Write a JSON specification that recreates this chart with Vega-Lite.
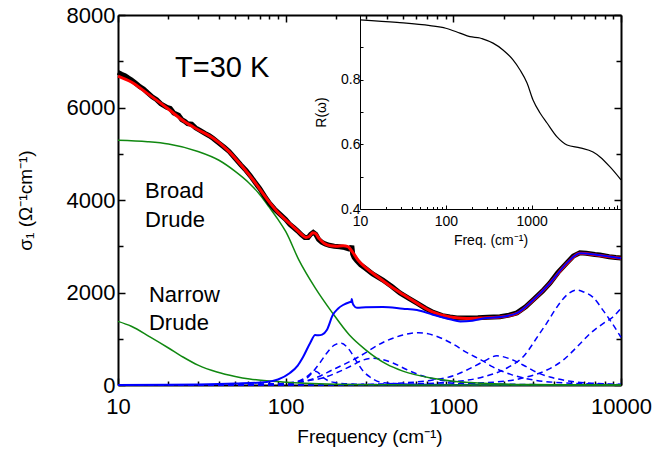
{
  "$schema": "https://vega.github.io/schema/vega-lite/v6.json",
  "width": 503,
  "height": 370,
  "autosize": {"type": "none"},
  "padding": {"left": 118, "top": 15, "right": 33, "bottom": 67},
  "background": "white",
  "config": {
    "font": "Liberation Sans",
    "view": {"stroke": null},
    "axis": {"grid": false, "domainColor": "black", "tickColor": "black", "labelColor": "black", "titleColor": "black", "labelFont": "Liberation Sans", "titleFont": "Liberation Sans", "titleFontWeight": "normal"}
  },
  "datasets": {
    "main": [
      {"k": "data", "f": 10, "s": 6760}, {"k": "data", "f": 10.5, "s": 6720}, {"k": "data", "f": 11, "s": 6690}, {"k": "data", "f": 11.5, "s": 6640}, {"k": "data", "f": 12, "s": 6600}, {"k": "data", "f": 12.7, "s": 6530}, {"k": "data", "f": 13.5, "s": 6450}, {"k": "data", "f": 14.2, "s": 6400}, {"k": "data", "f": 15, "s": 6320}, {"k": "data", "f": 16, "s": 6230}, {"k": "data", "f": 17, "s": 6170}, {"k": "data", "f": 18, "s": 6080}, {"k": "data", "f": 19.6, "s": 6000}, {"k": "data", "f": 20.5, "s": 5980}, {"k": "data", "f": 21.5, "s": 5880}, {"k": "data", "f": 23, "s": 5830}, {"k": "data", "f": 24, "s": 5740}, {"k": "data", "f": 25, "s": 5700}, {"k": "data", "f": 26, "s": 5650}, {"k": "data", "f": 27.5, "s": 5640}, {"k": "data", "f": 29, "s": 5560}, {"k": "data", "f": 31, "s": 5500}, {"k": "data", "f": 33, "s": 5440}, {"k": "data", "f": 35, "s": 5390}, {"k": "data", "f": 37, "s": 5330}, {"k": "data", "f": 40, "s": 5230}, {"k": "data", "f": 43, "s": 5140}, {"k": "data", "f": 46, "s": 5050}, {"k": "data", "f": 50, "s": 4900}, {"k": "data", "f": 54, "s": 4760}, {"k": "data", "f": 58, "s": 4640}, {"k": "data", "f": 62, "s": 4510}, {"k": "data", "f": 66, "s": 4370}, {"k": "data", "f": 70, "s": 4250}, {"k": "data", "f": 75, "s": 4080}, {"k": "data", "f": 80, "s": 3930}, {"k": "data", "f": 86, "s": 3800}, {"k": "data", "f": 92, "s": 3700}, {"k": "data", "f": 100, "s": 3580}, {"k": "data", "f": 106, "s": 3470}, {"k": "data", "f": 112, "s": 3400}, {"k": "data", "f": 118, "s": 3330}, {"k": "data", "f": 124, "s": 3250}, {"k": "data", "f": 130, "s": 3190}, {"k": "data", "f": 136, "s": 3190}, {"k": "data", "f": 141, "s": 3260}, {"k": "data", "f": 146, "s": 3300}, {"k": "data", "f": 151, "s": 3260}, {"k": "data", "f": 157, "s": 3150}, {"k": "data", "f": 164, "s": 3090}, {"k": "data", "f": 172, "s": 3050}, {"k": "data", "f": 182, "s": 3020}, {"k": "data", "f": 195, "s": 3000}, {"k": "data", "f": 210, "s": 2990}, {"k": "data", "f": 225, "s": 2970}, {"k": "data", "f": 238, "s": 2940}, {"k": "data", "f": 245, "s": 2950}, {"k": "data", "f": 248, "s": 3010}, {"k": "data", "f": 251, "s": 2830}, {"k": "data", "f": 256, "s": 2760}, {"k": "data", "f": 265, "s": 2690}, {"k": "data", "f": 280, "s": 2600}, {"k": "data", "f": 300, "s": 2520}, {"k": "data", "f": 330, "s": 2400}, {"k": "data", "f": 380, "s": 2270}, {"k": "data", "f": 430, "s": 2130}, {"k": "data", "f": 480, "s": 1990}, {"k": "data", "f": 540, "s": 1880}, {"k": "data", "f": 607, "s": 1770}, {"k": "data", "f": 680, "s": 1660}, {"k": "data", "f": 760, "s": 1570}, {"k": "data", "f": 860, "s": 1500}, {"k": "data", "f": 955, "s": 1470}, {"k": "data", "f": 1050, "s": 1450}, {"k": "data", "f": 1200, "s": 1450}, {"k": "data", "f": 1400, "s": 1455}, {"k": "data", "f": 1600, "s": 1465}, {"k": "data", "f": 1897, "s": 1475}, {"k": "data", "f": 2150, "s": 1510}, {"k": "data", "f": 2394, "s": 1560}, {"k": "data", "f": 2700, "s": 1690}, {"k": "data", "f": 2985, "s": 1838}, {"k": "data", "f": 3400, "s": 2030}, {"k": "data", "f": 3768, "s": 2205}, {"k": "data", "f": 4200, "s": 2430}, {"k": "data", "f": 4754, "s": 2640}, {"k": "data", "f": 5200, "s": 2790}, {"k": "data", "f": 5688, "s": 2860}, {"k": "data", "f": 6200, "s": 2850}, {"k": "data", "f": 7000, "s": 2820}, {"k": "data", "f": 7484, "s": 2810}, {"k": "data", "f": 8500, "s": 2775}, {"k": "data", "f": 9300, "s": 2755}, {"k": "data", "f": 10000, "s": 2745},

      {"k": "fit", "f": 10, "s": 6680}, {"k": "fit", "f": 12, "s": 6550}, {"k": "fit", "f": 15, "s": 6300}, {"k": "fit", "f": 19.6, "s": 5990}, {"k": "fit", "f": 25, "s": 5690}, {"k": "fit", "f": 30, "s": 5520}, {"k": "fit", "f": 36.8, "s": 5340}, {"k": "fit", "f": 45, "s": 5080}, {"k": "fit", "f": 55, "s": 4730}, {"k": "fit", "f": 65, "s": 4400}, {"k": "fit", "f": 77, "s": 4030}, {"k": "fit", "f": 90, "s": 3730}, {"k": "fit", "f": 100, "s": 3570}, {"k": "fit", "f": 112, "s": 3410}, {"k": "fit", "f": 124, "s": 3260}, {"k": "fit", "f": 132, "s": 3190}, {"k": "fit", "f": 138, "s": 3210}, {"k": "fit", "f": 145, "s": 3290}, {"k": "fit", "f": 150, "s": 3280}, {"k": "fit", "f": 158, "s": 3170}, {"k": "fit", "f": 170, "s": 3060}, {"k": "fit", "f": 185, "s": 3010}, {"k": "fit", "f": 200, "s": 3000}, {"k": "fit", "f": 220, "s": 3010}, {"k": "fit", "f": 235, "s": 2990}, {"k": "fit", "f": 250, "s": 2880}, {"k": "fit", "f": 270, "s": 2700}, {"k": "fit", "f": 300, "s": 2540}, {"k": "fit", "f": 350, "s": 2350}, {"k": "fit", "f": 420, "s": 2140}, {"k": "fit", "f": 500, "s": 1960}, {"k": "fit", "f": 607, "s": 1770}, {"k": "fit", "f": 750, "s": 1580}, {"k": "fit", "f": 955, "s": 1470}, {"k": "fit", "f": 1200, "s": 1440}, {"k": "fit", "f": 1500, "s": 1450}, {"k": "fit", "f": 1897, "s": 1470}, {"k": "fit", "f": 2394, "s": 1550}, {"k": "fit", "f": 2985, "s": 1830}, {"k": "fit", "f": 3768, "s": 2200}, {"k": "fit", "f": 4754, "s": 2630}, {"k": "fit", "f": 5688, "s": 2850}, {"k": "fit", "f": 7484, "s": 2800}, {"k": "fit", "f": 10000, "s": 2740},

      {"k": "total", "f": 10, "s": 0}, {"k": "total", "f": 20, "s": 5}, {"k": "total", "f": 30, "s": 10}, {"k": "total", "f": 50, "s": 30}, {"k": "total", "f": 77, "s": 65}, {"k": "total", "f": 90, "s": 120}, {"k": "total", "f": 106, "s": 260}, {"k": "total", "f": 118, "s": 420}, {"k": "total", "f": 127, "s": 605}, {"k": "total", "f": 140, "s": 908}, {"k": "total", "f": 150, "s": 1081}, {"k": "total", "f": 157, "s": 1075}, {"k": "total", "f": 165, "s": 1090}, {"k": "total", "f": 176, "s": 1189}, {"k": "total", "f": 191, "s": 1513}, {"k": "total", "f": 205, "s": 1650}, {"k": "total", "f": 220, "s": 1730}, {"k": "total", "f": 240, "s": 1790}, {"k": "total", "f": 246, "s": 1800}, {"k": "total", "f": 248, "s": 1860}, {"k": "total", "f": 250, "s": 1790}, {"k": "total", "f": 255, "s": 1720}, {"k": "total", "f": 266, "s": 1670}, {"k": "total", "f": 300, "s": 1680}, {"k": "total", "f": 380, "s": 1686}, {"k": "total", "f": 500, "s": 1650}, {"k": "total", "f": 607, "s": 1622}, {"k": "total", "f": 755, "s": 1520}, {"k": "total", "f": 955, "s": 1420}, {"k": "total", "f": 1100, "s": 1375}, {"k": "total", "f": 1300, "s": 1390}, {"k": "total", "f": 1500, "s": 1440}, {"k": "total", "f": 1897, "s": 1468}, {"k": "total", "f": 2394, "s": 1555}, {"k": "total", "f": 2985, "s": 1835}, {"k": "total", "f": 3768, "s": 2200}, {"k": "total", "f": 4754, "s": 2635}, {"k": "total", "f": 5688, "s": 2850}, {"k": "total", "f": 7484, "s": 2805}, {"k": "total", "f": 10000, "s": 2740},

      {"k": "drudeB", "f": 10, "s": 5290}, {"k": "drudeB", "f": 15, "s": 5260}, {"k": "drudeB", "f": 20, "s": 5210}, {"k": "drudeB", "f": 30, "s": 5050}, {"k": "drudeB", "f": 40, "s": 4860}, {"k": "drudeB", "f": 50, "s": 4620}, {"k": "drudeB", "f": 60, "s": 4380}, {"k": "drudeB", "f": 70, "s": 4120}, {"k": "drudeB", "f": 80, "s": 3840}, {"k": "drudeB", "f": 90, "s": 3580}, {"k": "drudeB", "f": 100, "s": 3320}, {"k": "drudeB", "f": 120, "s": 2700}, {"k": "drudeB", "f": 150, "s": 2100}, {"k": "drudeB", "f": 190, "s": 1560}, {"k": "drudeB", "f": 240, "s": 1080}, {"k": "drudeB", "f": 300, "s": 760}, {"k": "drudeB", "f": 400, "s": 450}, {"k": "drudeB", "f": 500, "s": 300}, {"k": "drudeB", "f": 750, "s": 145}, {"k": "drudeB", "f": 1000, "s": 80}, {"k": "drudeB", "f": 1500, "s": 38}, {"k": "drudeB", "f": 2000, "s": 20}, {"k": "drudeB", "f": 3000, "s": 9}, {"k": "drudeB", "f": 5000, "s": 3}, {"k": "drudeB", "f": 10000, "s": 1},

      {"k": "drudeN", "f": 10, "s": 1375}, {"k": "drudeN", "f": 12, "s": 1270}, {"k": "drudeN", "f": 15.5, "s": 1040}, {"k": "drudeN", "f": 20, "s": 800}, {"k": "drudeN", "f": 24.4, "s": 605}, {"k": "drudeN", "f": 30, "s": 430}, {"k": "drudeN", "f": 38.9, "s": 281}, {"k": "drudeN", "f": 50, "s": 185}, {"k": "drudeN", "f": 61, "s": 130}, {"k": "drudeN", "f": 80, "s": 85}, {"k": "drudeN", "f": 96, "s": 65}, {"k": "drudeN", "f": 130, "s": 38}, {"k": "drudeN", "f": 200, "s": 16}, {"k": "drudeN", "f": 400, "s": 4}, {"k": "drudeN", "f": 1000, "s": 1}, {"k": "drudeN", "f": 10000, "s": 0},

      {"k": "L1", "f": 10, "s": 0}, {"k": "L1", "f": 50, "s": 8}, {"k": "L1", "f": 80, "s": 20}, {"k": "L1", "f": 100, "s": 40}, {"k": "L1", "f": 120, "s": 90}, {"k": "L1", "f": 135, "s": 190}, {"k": "L1", "f": 145, "s": 280}, {"k": "L1", "f": 150, "s": 300}, {"k": "L1", "f": 155, "s": 280}, {"k": "L1", "f": 165, "s": 180}, {"k": "L1", "f": 180, "s": 90}, {"k": "L1", "f": 200, "s": 50}, {"k": "L1", "f": 250, "s": 20}, {"k": "L1", "f": 400, "s": 7}, {"k": "L1", "f": 1000, "s": 2}, {"k": "L1", "f": 10000, "s": 0},

      {"k": "L2", "f": 10, "s": 0}, {"k": "L2", "f": 50, "s": 5}, {"k": "L2", "f": 80, "s": 15}, {"k": "L2", "f": 100, "s": 35}, {"k": "L2", "f": 120, "s": 80}, {"k": "L2", "f": 135, "s": 160}, {"k": "L2", "f": 145, "s": 281}, {"k": "L2", "f": 160, "s": 480}, {"k": "L2", "f": 176, "s": 692}, {"k": "L2", "f": 195, "s": 860}, {"k": "L2", "f": 215, "s": 905}, {"k": "L2", "f": 235, "s": 800}, {"k": "L2", "f": 266, "s": 497}, {"k": "L2", "f": 290, "s": 300}, {"k": "L2", "f": 318, "s": 173}, {"k": "L2", "f": 363, "s": 65}, {"k": "L2", "f": 450, "s": 30}, {"k": "L2", "f": 700, "s": 10}, {"k": "L2", "f": 1500, "s": 3}, {"k": "L2", "f": 10000, "s": 0},

      {"k": "L3", "f": 10, "s": 0}, {"k": "L3", "f": 50, "s": 5}, {"k": "L3", "f": 100, "s": 30}, {"k": "L3", "f": 140, "s": 100}, {"k": "L3", "f": 166, "s": 150}, {"k": "L3", "f": 200, "s": 260}, {"k": "L3", "f": 242, "s": 400}, {"k": "L3", "f": 290, "s": 540}, {"k": "L3", "f": 330, "s": 580}, {"k": "L3", "f": 380, "s": 550}, {"k": "L3", "f": 440, "s": 470}, {"k": "L3", "f": 530, "s": 330}, {"k": "L3", "f": 650, "s": 200}, {"k": "L3", "f": 800, "s": 120}, {"k": "L3", "f": 1200, "s": 50}, {"k": "L3", "f": 2000, "s": 18}, {"k": "L3", "f": 5000, "s": 4}, {"k": "L3", "f": 10000, "s": 1},

      {"k": "L4", "f": 10, "s": 0}, {"k": "L4", "f": 50, "s": 5}, {"k": "L4", "f": 100, "s": 30}, {"k": "L4", "f": 145, "s": 130}, {"k": "L4", "f": 191, "s": 330}, {"k": "L4", "f": 270, "s": 600}, {"k": "L4", "f": 380, "s": 920}, {"k": "L4", "f": 500, "s": 1080}, {"k": "L4", "f": 620, "s": 1130}, {"k": "L4", "f": 800, "s": 1050}, {"k": "L4", "f": 1000, "s": 880}, {"k": "L4", "f": 1205, "s": 700}, {"k": "L4", "f": 1500, "s": 520}, {"k": "L4", "f": 1720, "s": 390}, {"k": "L4", "f": 2200, "s": 230}, {"k": "L4", "f": 2985, "s": 110}, {"k": "L4", "f": 5000, "s": 40}, {"k": "L4", "f": 10000, "s": 10},

      {"k": "L5", "f": 10, "s": 0}, {"k": "L5", "f": 100, "s": 2}, {"k": "L5", "f": 300, "s": 15}, {"k": "L5", "f": 500, "s": 45}, {"k": "L5", "f": 755, "s": 108}, {"k": "L5", "f": 1000, "s": 200}, {"k": "L5", "f": 1205, "s": 324}, {"k": "L5", "f": 1500, "s": 500}, {"k": "L5", "f": 1820, "s": 630}, {"k": "L5", "f": 2200, "s": 560}, {"k": "L5", "f": 2740, "s": 390}, {"k": "L5", "f": 3200, "s": 260}, {"k": "L5", "f": 3768, "s": 173}, {"k": "L5", "f": 5000, "s": 80}, {"k": "L5", "f": 7000, "s": 35}, {"k": "L5", "f": 10000, "s": 15},

      {"k": "L6", "f": 10, "s": 0}, {"k": "L6", "f": 200, "s": 3}, {"k": "L6", "f": 500, "s": 18}, {"k": "L6", "f": 1000, "s": 70}, {"k": "L6", "f": 1500, "s": 173}, {"k": "L6", "f": 2090, "s": 368}, {"k": "L6", "f": 2600, "s": 605}, {"k": "L6", "f": 3280, "s": 1120}, {"k": "L6", "f": 3600, "s": 1334}, {"k": "L6", "f": 4150, "s": 1686}, {"k": "L6", "f": 4800, "s": 1960}, {"k": "L6", "f": 5460, "s": 2054}, {"k": "L6", "f": 6000, "s": 2010}, {"k": "L6", "f": 6790, "s": 1900}, {"k": "L6", "f": 7800, "s": 1620}, {"k": "L6", "f": 8830, "s": 1340}, {"k": "L6", "f": 10000, "s": 1030},

      {"k": "L7", "f": 10, "s": 0}, {"k": "L7", "f": 500, "s": 8}, {"k": "L7", "f": 1000, "s": 25}, {"k": "L7", "f": 2000, "s": 80}, {"k": "L7", "f": 2740, "s": 173}, {"k": "L7", "f": 3614, "s": 324}, {"k": "L7", "f": 4520, "s": 540}, {"k": "L7", "f": 5460, "s": 822}, {"k": "L7", "f": 6600, "s": 1124}, {"k": "L7", "f": 7900, "s": 1340}, {"k": "L7", "f": 8950, "s": 1470}, {"k": "L7", "f": 10000, "s": 1660}
    ],
    "refl": [
      {"f": 10, "r": 0.985}, {"f": 27, "r": 0.977}, {"f": 65.5, "r": 0.967}, {"f": 100, "r": 0.959}, {"f": 146, "r": 0.944}, {"f": 191, "r": 0.933}, {"f": 250, "r": 0.929}, {"f": 264, "r": 0.927}, {"f": 355, "r": 0.913}, {"f": 464, "r": 0.892}, {"f": 607, "r": 0.861}, {"f": 733, "r": 0.83}, {"f": 884, "r": 0.79}, {"f": 1038, "r": 0.737}, {"f": 1253, "r": 0.697}, {"f": 1511, "r": 0.666}, {"f": 1977, "r": 0.623}, {"f": 2587, "r": 0.598}, {"f": 3667, "r": 0.589}, {"f": 5196, "r": 0.576}, {"f": 6267, "r": 0.561}, {"f": 8200, "r": 0.53}, {"f": 11000, "r": 0.49}
    ]
  },
  "layer": [
    {
      "data": {"name": "main"},
      "layer": [
        {
          "transform": [{"filter": "indexof(['L1','L2','L3','L4','L5','L6','L7'], datum.k) >= 0"}],
          "mark": {"type": "line", "color": "#0000ff", "strokeWidth": 1.5, "strokeDash": [6, 4], "interpolate": "monotone"},
          "encoding": {
            "x": {"field": "f", "type": "quantitative", "scale": {"type": "log", "domain": [10, 10000], "nice": false}, "axis": null},
            "y": {"field": "s", "type": "quantitative", "scale": {"domain": [0, 8000], "nice": false}, "axis": null},
            "detail": {"field": "k"}
          }
        },
        {
          "transform": [{"filter": "datum.k == 'drudeB' || datum.k == 'drudeN'"}],
          "mark": {"type": "line", "color": "#108810", "strokeWidth": 1.5, "interpolate": "monotone"},
          "encoding": {
            "x": {"field": "f", "type": "quantitative", "axis": null},
            "y": {"field": "s", "type": "quantitative", "axis": null},
            "detail": {"field": "k"}
          }
        },
        {
          "transform": [{"filter": "datum.k == 'data'"}],
          "mark": {"type": "line", "color": "black", "strokeWidth": 5, "interpolate": "linear"},
          "encoding": {
            "x": {"field": "f", "type": "quantitative", "title": "Frequency (cm⁻¹)",
              "axis": {"orient": "bottom", "values": [10, 20, 30, 40, 50, 60, 70, 80, 90, 100, 200, 300, 400, 500, 600, 700, 800, 900, 1000, 2000, 3000, 4000, 5000, 6000, 7000, 8000, 9000, 10000], "format": "d",
                "labelExpr": "datum.value == 10 || datum.value == 100 || datum.value == 1000 || datum.value == 10000 ? datum.label : ''",
                "tickSize": {"condition": {"test": "datum.value == 10 || datum.value == 100 || datum.value == 1000 || datum.value == 10000", "value": -7}, "value": -4},
                "tickWidth": 1.5, "domainWidth": 2, "labelFontSize": 22, "labelPadding": 18, "labelFlush": false, "labelOverlap": false, "titleFontSize": 19, "titleY": 42, "titleBaseline": "top"}},
            "y": {"field": "s", "type": "quantitative", "title": "σ₁ (Ω⁻¹cm⁻¹)",
              "axis": {"orient": "left", "values": [0, 1000, 2000, 3000, 4000, 5000, 6000, 7000, 8000], "format": "d",
                "labelExpr": "datum.value % 2000 == 0 ? datum.label : ''",
                "tickSize": {"condition": {"test": "datum.value % 2000 == 0", "value": -7}, "value": -5},
                "tickWidth": 1.5, "domainWidth": 2, "labelFontSize": 22, "labelPadding": 10, "labelFlush": false, "labelOverlap": false, "titleFontSize": 19, "titleX": -83}}
          }
        },
        {
          "transform": [{"filter": "datum.k == 'fit'"}],
          "mark": {"type": "line", "color": "#ff0000", "strokeWidth": 3, "interpolate": "monotone"},
          "encoding": {
            "x": {"field": "f", "type": "quantitative",
              "axis": {"orient": "top", "values": [10, 20, 30, 40, 50, 60, 70, 80, 90, 100, 200, 300, 400, 500, 600, 700, 800, 900, 1000, 2000, 3000, 4000, 5000, 6000, 7000, 8000, 9000, 10000],
                "labels": false, "title": null,
                "tickSize": {"condition": {"test": "datum.value == 10 || datum.value == 100 || datum.value == 1000 || datum.value == 10000", "value": -7}, "value": -4},
                "tickWidth": 1.5, "domainWidth": 2}},
            "y": {"field": "s", "type": "quantitative",
              "axis": {"orient": "right", "values": [0, 1000, 2000, 3000, 4000, 5000, 6000, 7000, 8000], "labels": false, "title": null,
                "tickSize": {"condition": {"test": "datum.value % 2000 == 0", "value": -7}, "value": -5},
                "tickWidth": 1.5, "domainWidth": 2}}
          }
        },
        {
          "transform": [{"filter": "datum.k == 'total'"}],
          "mark": {"type": "line", "color": "#0000ff", "strokeWidth": 2, "interpolate": "monotone"},
          "encoding": {
            "x": {"field": "f", "type": "quantitative", "axis": null},
            "y": {"field": "s", "type": "quantitative", "axis": null}
          }
        },
        {
          "data": {"values": [{}]},
          "mark": {"type": "text", "text": "T=30 K", "fontSize": 29, "align": "left", "baseline": "alphabetic", "color": "black"},
          "encoding": {"x": {"datum": 21.9, "axis": null}, "y": {"datum": 6666, "axis": null}}
        },
        {
          "data": {"values": [{}]},
          "mark": {"type": "text", "text": ["Broad", "Drude"], "fontSize": 22, "lineHeight": 29, "align": "left", "baseline": "alphabetic", "color": "black"},
          "encoding": {"x": {"datum": 14.5, "axis": null}, "y": {"datum": 4043, "axis": null}}
        },
        {
          "data": {"values": [{}]},
          "mark": {"type": "text", "text": ["Narrow", "Drude"], "fontSize": 22, "lineHeight": 28, "align": "left", "baseline": "alphabetic", "color": "black"},
          "encoding": {"x": {"datum": 15.3, "axis": null}, "y": {"datum": 1801, "axis": null}}
        }
      ],
      "resolve": {"axis": {"x": "independent", "y": "independent"}}
    },
    {
      "data": {"name": "refl"},
      "mark": {"type": "line", "color": "black", "strokeWidth": 1.2, "interpolate": "monotone"},
      "encoding": {
        "x": {"field": "f", "type": "quantitative", "title": "Freq. (cm⁻¹)",
          "scale": {"type": "log", "domain": [10, 11000], "range": [242, 503], "nice": false},
          "axis": {"orient": "bottom", "offset": -176, "values": [10, 20, 30, 40, 50, 60, 70, 80, 90, 100, 200, 300, 400, 500, 600, 700, 800, 900, 1000, 2000, 3000, 4000, 5000, 6000, 7000, 8000, 9000, 10000], "format": "d",
            "labelExpr": "datum.value == 10 || datum.value == 100 || datum.value == 1000 ? datum.label : ''",
            "tickSize": {"condition": {"test": "datum.value == 10 || datum.value == 100 || datum.value == 1000 || datum.value == 10000", "value": -4}, "value": -2.5},
            "tickWidth": 1, "domainWidth": 1, "labelFontSize": 14, "labelPadding": 9, "labelFlush": false, "labelOverlap": false, "titleFontSize": 14, "titlePadding": 4}},
        "y": {"field": "r", "type": "quantitative", "title": "R(ω)",
          "scale": {"domain": [0.4, 1.0], "range": [194, 0], "nice": false, "zero": false},
          "axis": {"orient": "left", "offset": -242, "values": [0.4, 0.5, 0.6, 0.7, 0.8, 0.9], "format": ".1f",
            "labelExpr": "datum.value == 0.4 || datum.value == 0.6 || datum.value == 0.8 ? datum.label : ''",
            "tickSize": -3, "tickWidth": 1, "domainWidth": 1, "labelFontSize": 14, "labelPadding": 3, "labelFlush": false, "labelOverlap": false, "titleFontSize": 14, "titlePadding": 12}}
      }
    }
  ],
  "resolve": {"scale": {"x": "independent", "y": "independent"}}
}
